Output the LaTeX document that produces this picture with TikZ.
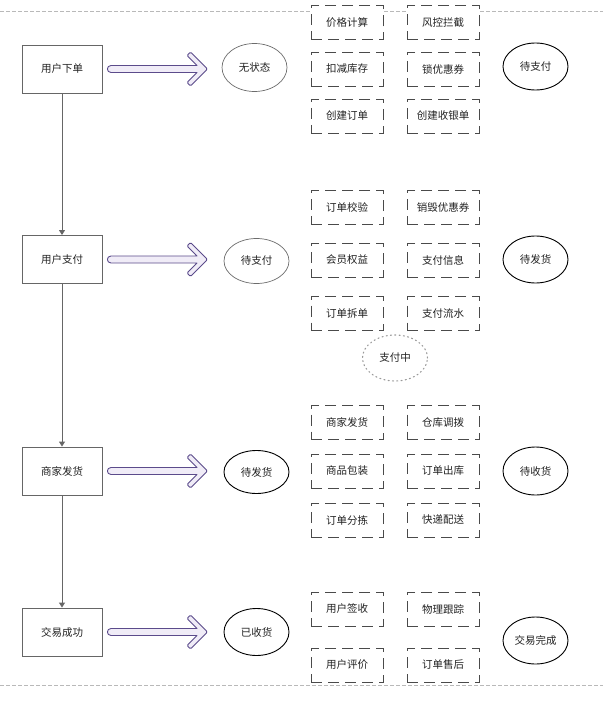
\documentclass[tikz,border=0pt]{standalone}
\usepackage{fontspec}
\setmainfont{Noto Sans CJK SC}
\usetikzlibrary{shapes.geometric,arrows.meta,calc}
\definecolor{boxline}{HTML}{666666}
\definecolor{dashline}{HTML}{4A4A4A}
\definecolor{arrline}{HTML}{5B4B8B}
\definecolor{arrfill}{HTML}{F0ECF7}
\definecolor{txt}{HTML}{222222}
\begin{document}
\begin{tikzpicture}[x=1bp,y=-1bp,
  every node/.style={font=\fontsize{10.5bp}{12bp}\selectfont, text=txt},
  stagebox/.style={draw=boxline, line width=0.9bp, fill=white, minimum width=80bp, minimum height=48bp, inner sep=0pt},
  taskbox/.style={draw=dashline, line width=0.9bp, dash pattern=on 11bp off 6bp, fill=white, minimum width=72bp, minimum height=34bp, inner sep=0pt},
  graystate/.style={ellipse, draw=gray!85!black, line width=0.7bp, fill=white, inner sep=0pt},
  blackstate/.style={ellipse, draw=black, line width=0.9bp, fill=white, inner sep=0pt},
  dotstate/.style={ellipse, draw=gray!80, line width=1.1bp, dash pattern=on 1.1bp off 3.2bp, line cap=round, inner sep=0pt},
  vline/.style={draw=boxline, line width=0.9bp, -{Triangle[width=6bp,length=5bp]}},
  hollowarr/.style={draw=arrline, fill=arrfill, line width=0.9bp, line join=round}
]
\useasboundingbox (0,0) rectangle (603,701);
\draw[gray!55, line width=0.8bp, dash pattern=on 4bp off 2bp] (0,11) -- (603,11);
\draw[gray!55, line width=0.8bp, dash pattern=on 4bp off 2bp] (0,685) -- (603,685);

% stage boxes
\node[stagebox] (b1) at (62,69) {用户下单};
\node[stagebox] (b2) at (62,259.5) {用户支付};
\node[stagebox] (b3) at (62,471) {商家发货};
\node[stagebox] (b4) at (62,632) {交易成功};

\draw[vline] (b1) -- (b2);
\draw[vline] (b2) -- (b3);
\draw[vline] (b3) -- (b4);

% left states
\node[graystate, minimum width=65bp, minimum height=48bp] (e1) at (254.5,67.5) {无状态};
\node[graystate, minimum width=65bp, minimum height=45bp] (e2) at (256.5,261) {待支付};
\node[blackstate, minimum width=65bp, minimum height=43bp] (e3) at (256.5,472) {待发货};
\node[blackstate, minimum width=65bp, minimum height=47bp] (e4) at (256.5,632) {已收货};

% hollow arrows
\foreach \b in {b1,b2,b3,b4}{
  \begin{scope}[shift={($(\b.east)+(5,0)$)}]
    \filldraw[hollowarr] (3.5,-3.5) -- (89.5,-3.5)
      [rounded corners=1.2bp] -- (79.5,-13.5) -- (83,-17) -- (100,0)
      -- (83,17) -- (79.5,13.5) [sharp corners] -- (89.5,3.5) -- (3.5,3.5)
      .. controls (-1.2,3.5) and (-1.2,-3.5) .. (3.5,-3.5) -- cycle;
  \end{scope}
}

% task boxes group 1
\node[taskbox] (t11) at (347,22.5) {价格计算};
\node[taskbox] (t12) at (443,22.5) {风控拦截};
\node[taskbox] (t13) at (347,69) {扣减库存};
\node[taskbox] (t14) at (443,69) {锁优惠券};
\node[taskbox] (t15) at (347,116) {创建订单};
\node[taskbox] (t16) at (443,116) {创建收银单};

% group 2
\node[taskbox] (t21) at (347,207) {订单校验};
\node[taskbox] (t22) at (443,207) {销毁优惠券};
\node[taskbox] (t23) at (347,260) {会员权益};
\node[taskbox] (t24) at (443,260) {支付信息};
\node[taskbox] (t25) at (347,313.5) {订单拆单};
\node[taskbox] (t26) at (443,313.5) {支付流水};
\node[dotstate, minimum width=65bp, minimum height=46bp] (pay) at (395,358) {支付中};

% group 3
\node[taskbox] (t31) at (347,422.5) {商家发货};
\node[taskbox] (t32) at (443,422.5) {仓库调拨};
\node[taskbox] (t33) at (347,471) {商品包装};
\node[taskbox] (t34) at (443,471) {订单出库};
\node[taskbox] (t35) at (347,520) {订单分拣};
\node[taskbox] (t36) at (443,520) {快递配送};

% group 4
\node[taskbox] (t41) at (347,609) {用户签收};
\node[taskbox] (t42) at (443,609) {物理跟踪};
\node[taskbox] (t43) at (347,665) {用户评价};
\node[taskbox] (t44) at (443,665) {订单售后};

% right states
\node[blackstate, minimum width=65bp, minimum height=47bp] (r1) at (535.5,66.5) {待支付};
\node[blackstate, minimum width=65bp, minimum height=47bp] (r2) at (535.5,259.5) {待发货};
\node[blackstate, minimum width=65bp, minimum height=48bp] (r3) at (535.5,471) {待收货};
\node[blackstate, minimum width=65bp, minimum height=47bp] (r4) at (535.5,640.5) {交易完成};
\end{tikzpicture}
\end{document}
